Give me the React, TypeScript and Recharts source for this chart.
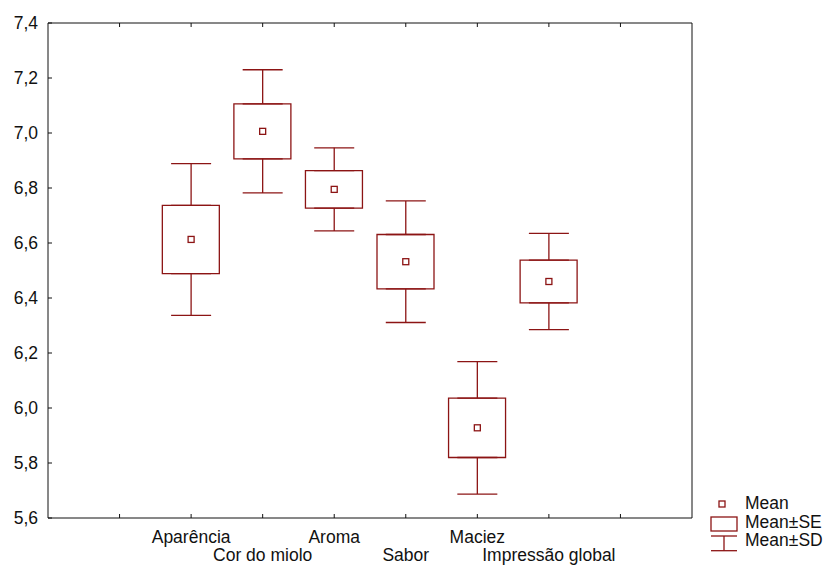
import React from 'react';
import {
  ComposedChart,
  Bar,
  Scatter,
  ErrorBar,
  XAxis,
  YAxis,
  Legend,
} from 'recharts';

const categories = ['Aparência', 'Cor do miolo', 'Aroma', 'Sabor', 'Maciez', 'Impressão global'];
const positions = [2, 3, 4, 5, 6, 7];
const means = [6.613, 7.006, 6.795, 6.532, 5.928, 6.46];
const stdErrors = [0.124, 0.1, 0.068, 0.099, 0.108, 0.078];
const stdDevs = [0.276, 0.224, 0.151, 0.221, 0.241, 0.175];

const xTicks = [1, 2, 3, 4, 5, 6, 7, 8];
const yTicks = [5.6, 5.8, 6.0, 6.2, 6.4, 6.6, 6.8, 7.0, 7.2, 7.4];

const RED = '#8c1414';
const FONT = 'Liberation Sans, Arial, sans-serif';

// one row per attribute: SE box range plus the two whisker pieces
const rows = categories.map((name, i) => {
  const m = means[i];
  const se = stdErrors[i];
  const sd = stdDevs[i];
  return {
    pos: positions[i],
    name,
    mean: m,
    seRange: [m - se, m + se],
    seHi: m + se,
    seLo: m - se,
    upErr: [0, sd - se],
    loErr: [sd - se, 0],
  };
});

const fmt = (v: number) => v.toFixed(1).replace('.', ',');

function CategoryTick(props: any) {
  const { x, y, payload } = props;
  const i = positions.indexOf(payload.value);
  if (i < 0) return <g />;
  const dy = i % 2 === 0 ? 25 : 43;
  return (
    <text x={x} y={y + dy} textAnchor="middle" fontSize={17.5} fill="#111" fontFamily={FONT}>
      {categories[i]}
    </text>
  );
}

const MeanMark = (props: any) => {
  const { cx, cy } = props;
  return <rect x={cx - 3} y={cy - 3} width={6} height={6} fill="#fff" stroke={RED} strokeWidth={1.3} />;
};

const Nothing = () => <g />;

function LegendBox() {
  return (
    <svg width={124} height={60} style={{ display: 'block' }}>
      <rect x={19} y={6} width={6} height={6} fill="#fff" stroke={RED} strokeWidth={1.3} />
      <rect x={11} y={22} width={26} height={14} fill="#fff" stroke={RED} strokeWidth={1.3} />
      <line x1={11} y1={41} x2={37} y2={41} stroke={RED} strokeWidth={1.3} />
      <line x1={24} y1={41} x2={24} y2={55.7} stroke={RED} strokeWidth={1.3} />
      <line x1={11} y1={55.7} x2={37} y2={55.7} stroke={RED} strokeWidth={1.3} />
      <g fontSize={17.5} fill="#111" fontFamily={FONT}>
        <text x={45} y={13.5}>Mean</text>
        <text x={45} y={32.5}>Mean±SE</text>
        <text x={45} y={50.5}>Mean±SD</text>
      </g>
    </svg>
  );
}

export default function App() {
  return (
    <div style={{ position: 'absolute', left: 0, top: 0, width: 824, height: 565, background: '#fff', fontFamily: FONT }}>
      <ComposedChart
        width={824}
        height={565}
        data={rows}
        margin={{ top: 22, right: 131, bottom: 0, left: 0 }}
      >
        <XAxis
          dataKey="pos"
          type="number"
          domain={[0, 9]}
          ticks={xTicks}
          interval={0}
          height={47}
          stroke="#111"
          tickSize={-4}
          tickMargin={4}
          tick={<CategoryTick />}
        />
        <XAxis
          xAxisId="top"
          orientation="top"
          dataKey="pos"
          type="number"
          domain={[0, 9]}
          ticks={xTicks}
          interval={0}
          height={1}
          stroke="#111"
          tickSize={-4}
          tickFormatter={() => ''}
        />
        <YAxis
          type="number"
          domain={[5.6, 7.4]}
          ticks={yTicks}
          interval={0}
          width={48}
          stroke="#111"
          tickSize={-4}
          tickMargin={14}
          tickFormatter={fmt}
          tick={{ fontSize: 17.5, fill: '#111', fontFamily: FONT }}
        />
        <YAxis
          yAxisId="right"
          orientation="right"
          type="number"
          domain={[5.6, 7.4]}
          ticks={yTicks}
          interval={0}
          width={1}
          stroke="#111"
          tickSize={-4}
          tickFormatter={() => ''}
        />
        <Scatter dataKey="seHi" shape={<Nothing />} isAnimationActive={false} legendType="none">
          <ErrorBar dataKey="upErr" direction="y" width={20} stroke={RED} strokeWidth={1.3} />
        </Scatter>
        <Scatter dataKey="seLo" shape={<Nothing />} isAnimationActive={false} legendType="none">
          <ErrorBar dataKey="loErr" direction="y" width={20} stroke={RED} strokeWidth={1.3} />
        </Scatter>
        <Bar
          dataKey="seRange"
          barSize={57}
          fill="#fff"
          stroke={RED}
          strokeWidth={1.3}
          isAnimationActive={false}
        />
        <Scatter dataKey="mean" shape={<MeanMark />} isAnimationActive={false} />
        <Legend
          layout="vertical"
          align="center"
          verticalAlign="middle"
          wrapperStyle={{ left: 700, top: 495, width: 124 }}
          content={() => <LegendBox />}
        />
      </ComposedChart>
    </div>
  );
}
